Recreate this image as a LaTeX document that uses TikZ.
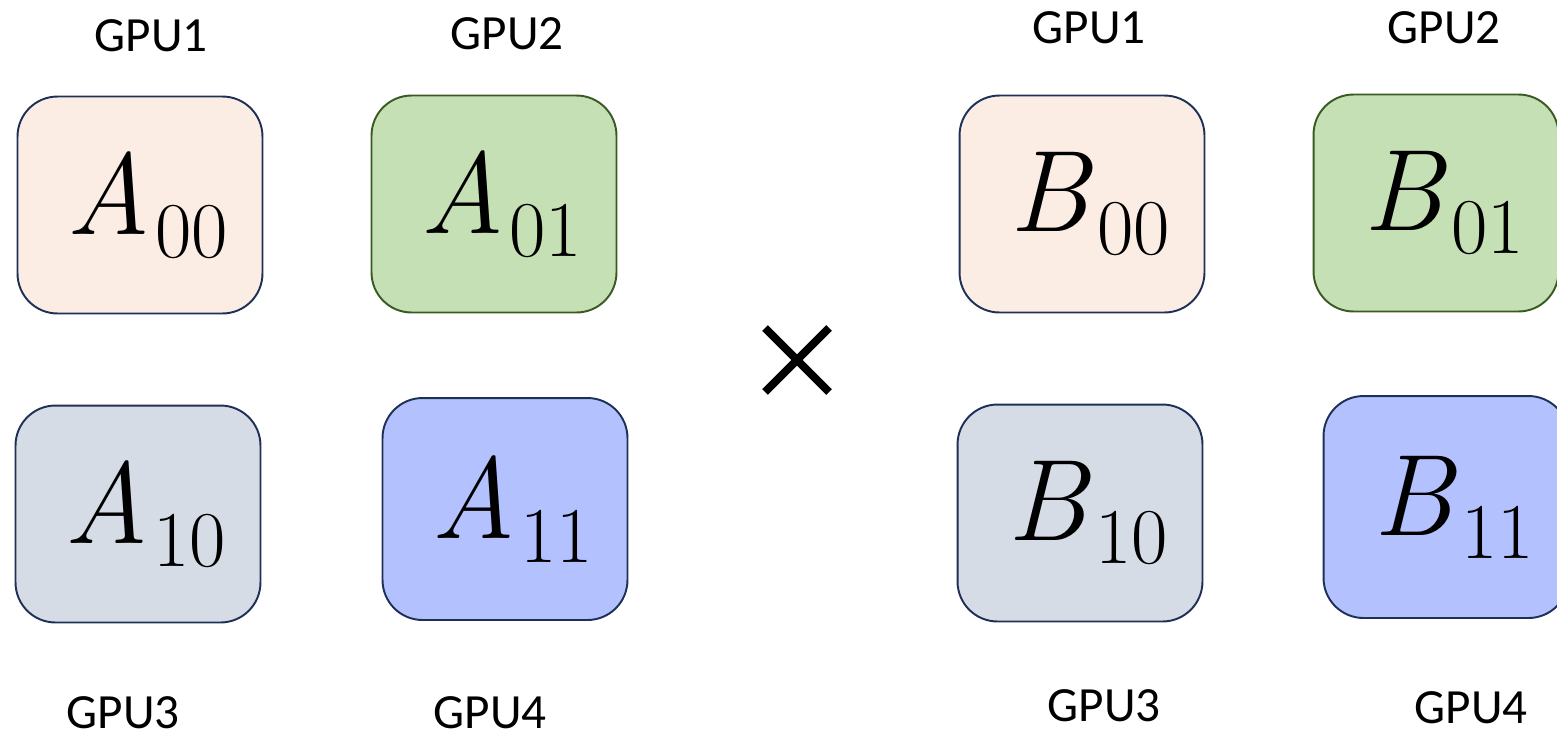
\documentclass[tikz,border=0pt]{standalone}
\usepackage{fontspec}
\newfontfamily\gpufont{Carlito}
\usepackage{xcolor}
\usetikzlibrary{positioning}
\definecolor{peach}{HTML}{FBEDE4}
\definecolor{leaf}{HTML}{C5E0B4}
\definecolor{slate}{HTML}{D6DCE5}
\definecolor{periw}{HTML}{B3C1FF}
\definecolor{navy}{HTML}{1F3056}
\definecolor{moss}{HTML}{3A5A22}
\newcommand{\blocklabel}[2]{\hspace*{0.3cm}\textit{#1}\kern0.04em\raisebox{-0.2em}{\fontsize{45}{45}\selectfont #2}}
\tikzset{
  block/.style={
    rectangle, rounded corners=0.8cm,
    minimum width=4.9cm, minimum height=4.34cm,
    draw=navy, line width=1.1pt,
    font=\fontsize{66}{66}\selectfont, inner sep=0pt
  },
  tall/.style  = {minimum height=4.44cm},
  pch/.style   = {block, fill=peach},
  grn/.style   = {block, fill=leaf, draw=moss},
  gry/.style   = {block, fill=slate},
  blu/.style   = {block, fill=periw},
  gpu/.style   = {font=\gpufont\fontsize{28}{28}\selectfont, inner sep=0pt},
}
\begin{document}
\begin{tikzpicture}[x=0.02cm, y=-0.02cm]
  \useasboundingbox (0,0) rectangle (1557,738);

  % Blocks of A
  \node[pch] (a00) at (140,205) {\blocklabel{A}{00}};
  \node[grn] (a01) at (494,204) {\blocklabel{A}{01}};
  \node[gry] (a10) at (138,514) {\blocklabel{A}{10}};
  \node[blu, tall] (a11) at (505,509) {\blocklabel{A}{11}};

  % Blocks of B
  \node[pch] (b00) at (1082,204) {\blocklabel{B}{00}};
  \node[grn] (b01) at (1436,203) {\blocklabel{B}{01}};
  \node[gry] (b10) at (1080,513) {\blocklabel{B}{10}};
  \node[blu, tall] (b11) at (1446,507) {\blocklabel{B}{11}};

  % GPU labels
  \node[gpu] (ga1) at (151,36)  {GPU1};
  \node[gpu] (ga2) at (507,34)  {GPU2};
  \node[gpu] (ga3) at (123,713) {GPU3};
  \node[gpu] (ga4) at (490,713) {GPU4};
  \node[gpu] (gb1) at (1089,28) {GPU1};
  \node[gpu] (gb2) at (1444,28) {GPU2};
  \node[gpu] (gb3) at (1104,706) {GPU3};
  \node[gpu] (gb4) at (1471,708) {GPU4};

  % Product sign
  \coordinate (mul) at (797,360);
  \draw[line width=4.6pt] ([shift={(-32,-32)}]mul) -- ([shift={(32,32)}]mul);
  \draw[line width=4.6pt] ([shift={(-32,32)}]mul) -- ([shift={(32,-32)}]mul);

\end{tikzpicture}
\end{document}
